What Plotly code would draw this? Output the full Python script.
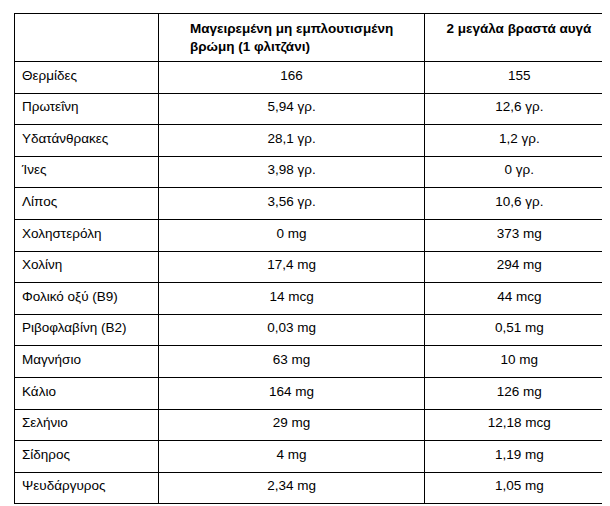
import plotly.graph_objects as go

header = ["", "<b>Μαγειρεμένη μη εμπλουτισμένη<br>βρώμη (1 φλιτζάνι)</b>", "<b>2 μεγάλα βραστά αυγά</b>"]
nutrients = ["Θερμίδες", "Πρωτεΐνη", "Υδατάνθρακες", "Ίνες", "Λίπος", "Χοληστερόλη", "Χολίνη",
             "Φολικό οξύ (B9)", "Ριβοφλαβίνη (B2)", "Μαγνήσιο", "Κάλιο", "Σελήνιο", "Σίδηρος", "Ψευδάργυρος"]
oats = ["166", "5,94 γρ.", "28,1 γρ.", "3,98 γρ.", "3,56 γρ.", "0 mg", "17,4 mg",
        "14 mcg", "0,03 mg", "63 mg", "164 mg", "29 mg", "4 mg", "2,34 mg"]
eggs = ["155", "12,6 γρ.", "1,2 γρ.", "0 γρ.", "10,6 γρ.", "373 mg", "294 mg",
        "44 mcg", "0,51 mg", "10 mg", "126 mg", "12,18 mcg", "1,19 mg", "1,05 mg"]

fig = go.Figure(go.Table(
    domain=dict(x=[6 / 610, 606 / 610], y=[0, 1 - 5 / 506]),
    columnwidth=[145, 267, 190],
    header=dict(
        values=header,
        align="center",
        height=24,
        fill_color="white",
        line=dict(color="black", width=1),
        font=dict(family="Liberation Sans, Arial", size=13.5, color="black"),
    ),
    cells=dict(
        values=[nutrients, oats, eggs],
        align=["left", "center", "center"],
        height=31.6,
        fill_color="white",
        line=dict(color="black", width=1),
        font=dict(family="Liberation Sans, Arial", size=13.5, color="black"),
    ),
))
fig.update_layout(width=610, height=506, margin=dict(l=0, r=0, t=0, b=0),
                  paper_bgcolor="white")
fig.write_html("out.html")
